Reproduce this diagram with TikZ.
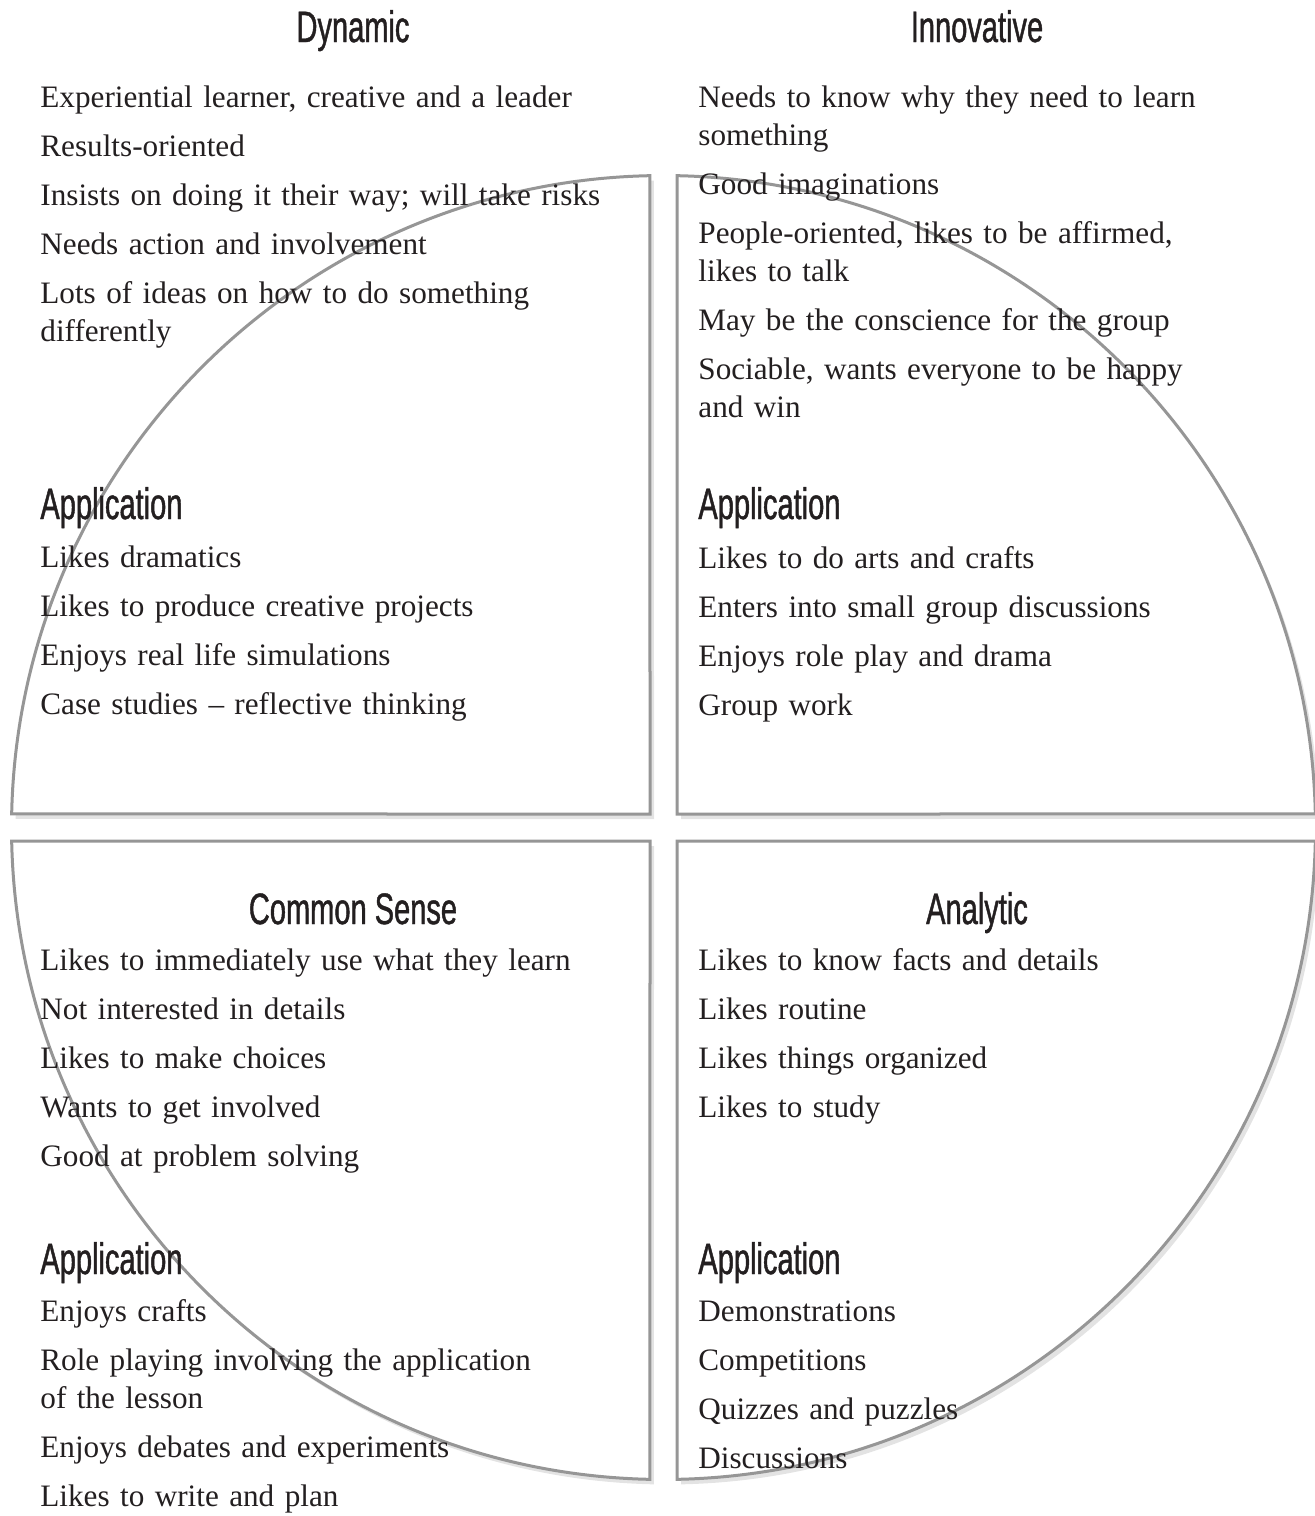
\documentclass[tikz,border=0pt]{standalone}
\usepackage{fontspec}
\setmainfont{Liberation Serif}
\newfontfamily\headfont[FakeStretch=0.66,FakeBold=1]{Liberation Sans}
\usetikzlibrary{calc,shadows}
\definecolor{edgegray}{HTML}{969696}
\definecolor{inkblack}{HTML}{231F20}
\newcommand{\nxt}{\\[5.5pt]}

\begin{document}
\begin{tikzpicture}[
  x=0.5pt,y=-0.5pt,
  quad/.style={draw=edgegray,line width=1.5pt,fill=white,
    drop shadow={shadow xshift=2pt,shadow yshift=-2.5pt,opacity=0.22}},
  head/.style={font=\headfont\fontsize{22}{26}\selectfont,text=inkblack,inner sep=0pt,anchor=base},
  subhead/.style={head,anchor=base west},
  txt/.style={font=\fontsize{15.6}{19}\selectfont,text=inkblack,text width=320pt,align=left,inner sep=0pt,anchor=base west}
]
\useasboundingbox (0,0) rectangle (1314,1516);
\coordinate (c) at (663.5,827.5);
\def\rad{652}

% the four pieces of the circle
\draw[quad] (650,814) -- ($(c)+(268.81:\rad)$) arc[start angle=268.81,end angle=181.19,radius=\rad] -- cycle;
\draw[quad] (677,814) -- ($(c)+(271.19:\rad)$) arc[start angle=271.19,end angle=358.81,radius=\rad] -- cycle;
\draw[quad] (650,841) -- ($(c)+(178.81:\rad)$) arc[start angle=178.81,end angle=91.19,radius=\rad] -- cycle;
\draw[quad] (677,841) -- ($(c)+(1.19:\rad)$) arc[start angle=1.19,end angle=88.81,radius=\rad] -- cycle;

% Dynamic
\node[head] (dyn) at (353,42) {Dynamic};
\node[txt] (dynlist) at (40,107) {Experiential learner, creative and a leader\nxt
  Results-oriented\nxt
  Insists on doing it their way; will take risks\nxt
  Needs action and involvement\nxt
  Lots of ideas on how to do something\\differently};
\node[subhead] (dynapp) at (40,519) {Application};
\node[txt] (dynapplist) at (40,567) {Likes dramatics\nxt
  Likes to produce creative projects\nxt
  Enjoys real life simulations\nxt
  Case studies -- reflective thinking};

% Innovative
\node[head] (inn) at (977,42) {Innovative};
\node[txt] (innlist) at (698,107) {Needs to know why they need to learn\\something\nxt
  Good imaginations\nxt
  People-oriented, likes to be affirmed,\\likes to talk\nxt
  May be the conscience for the group\nxt
  Sociable, wants everyone to be happy\\and win};
\node[subhead] (innapp) at (698,519) {Application};
\node[txt] (innapplist) at (698,568) {Likes to do arts and crafts\nxt
  Enters into small group discussions\nxt
  Enjoys role play and drama\nxt
  Group work};

% Common Sense
\node[head] (com) at (353,924) {Common Sense};
\node[txt] (comlist) at (40,970) {Likes to immediately use what they learn\nxt
  Not interested in details\nxt
  Likes to make choices\nxt
  Wants to get involved\nxt
  Good at problem solving};
\node[subhead] (comapp) at (40,1274) {Application};
\node[txt] (comapplist) at (40,1321) {Enjoys crafts\nxt
  Role playing involving the application\\of the lesson\nxt
  Enjoys debates and experiments\nxt
  Likes to write and plan};

% Analytic
\node[head] (anl) at (977,924) {Analytic};
\node[txt] (anllist) at (698,970) {Likes to know facts and details\nxt
  Likes routine\nxt
  Likes things organized\nxt
  Likes to study};
\node[subhead] (anlapp) at (698,1274) {Application};
\node[txt] (anlapplist) at (698,1321) {Demonstrations\nxt
  Competitions\nxt
  Quizzes and puzzles\nxt
  Discussions};
\end{tikzpicture}
\end{document}
